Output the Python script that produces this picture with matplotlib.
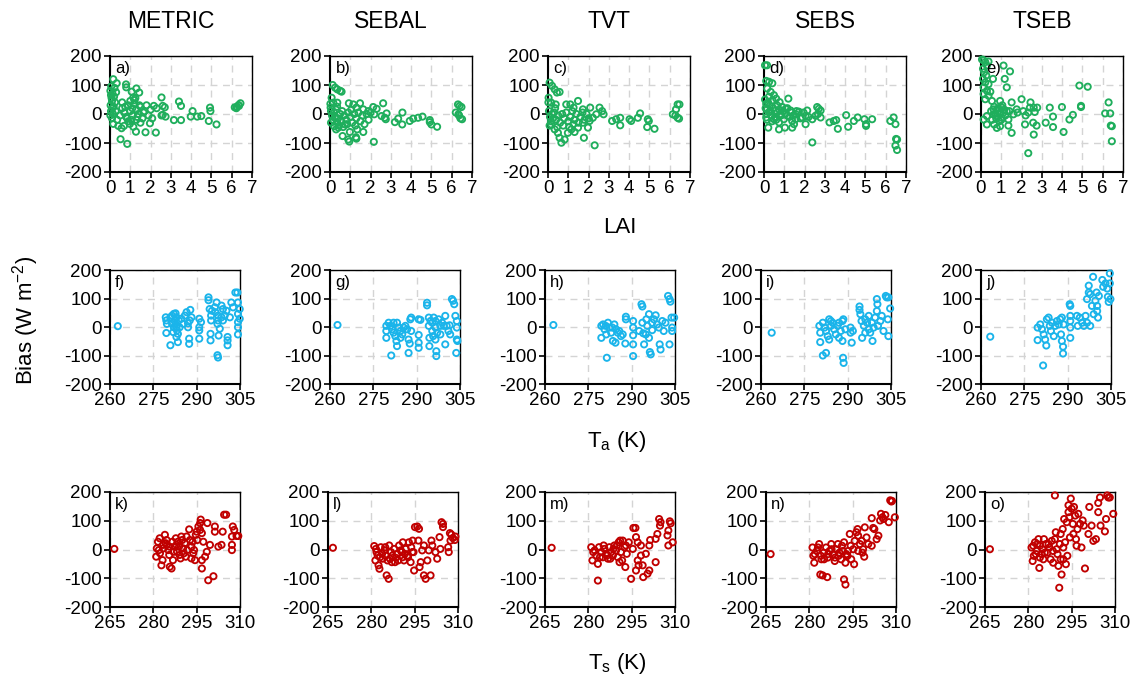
import matplotlib
matplotlib.use("Agg")
import matplotlib.pyplot as plt

plt.rcParams['font.family'] = ['Liberation Sans', 'DejaVu Sans']
plt.rcParams['axes.unicode_minus'] = False

models = ["METRIC", "SEBAL", "TVT", "SEBS", "TSEB"]
panel_labels = ["a)", "b)", "c)", "d)", "e)", "f)", "g)", "h)", "i)", "j)",
                "k)", "l)", "m)", "n)", "o)"]

lai_ticks = [0, 1, 2, 3, 4, 5, 6, 7]
ta_ticks = [260, 275, 290, 305]
ts_ticks = [265, 280, 295, 310]
bias_ticks = [-200, -100, 0, 100, 200]

# ---- Row 1: Bias vs LAI ----
a_pts = [(0.16,120),(0.33,106),(0.79,102),(0.8,92),(1.3,88),(1.07,77),(1.44,74),(1.15,57),(1.2,48),
         (2.54,57),(2.6,28),(2.16,28),(2.3,20),(2.7,23),(2.6,-3),(2.74,-9),(2.54,-5),(3.4,43),(3.5,28),
         (3.15,-21),(3.5,-21),(4.07,10),(3.98,-9),(4.3,-9),(4.5,-7),(4.93,22),(4.95,10),(4.87,-24),
         (5.25,-36),(6.15,23),(6.26,25),(6.34,31),(6.43,37),(6.36,28),(6.23,20),(0.52,-87),(0.85,-103),
         (1.28,-61),(1.75,-63),(2.26,-64),(1.97,-32),(2.08,-15),(0.16,-34),(0.41,-41),(0.57,-49),
         (0.69,-41),(0.98,-34),(1.15,-44),(0.6,20),(0.7,5),(0.8,-10),(0.9,30),(1.0,10),(1.1,-5),
         (1.2,35),(1.3,15),(1.4,0),(1.5,25),(1.6,-15),(1.7,10),(1.8,30),(1.9,-5),(2.0,15),(0.9,-25),
         (1.0,45),(1.1,20),(1.3,-20),(1.5,-30),(0.5,-5),(0.6,40),(0.75,25),(1.25,55),(1.35,-10),
         (1.45,30),(1.65,5),(0.85,-15),(1.05,-20),(0.02,80),(0.05,65),(0.08,55),(0.1,45),(0.03,30),
         (0.12,20),(0.05,10),(0.15,0),(0.02,-5),(0.1,-15),(0.2,60),(0.25,40),(0.18,25),(0.22,90),
         (0.3,75),(0.06,95),(0.12,70),(0.28,10),(0.35,-20)]

b_pts = [(0.13,100),(0.25,91),(0.36,85),(0.5,80),(0.57,77),(0.08,56),(0.16,39),(0.36,39),(0.03,22),
         (0.93,37),(1.15,33),(1.48,37),(1.3,22),(1.64,16),(2.13,24),(2.3,18),(2.62,37),(1.89,10),
         (2.18,-1),(2.54,-7),(2.7,-13),(2.79,2),(2.75,-18),(0.62,-76),(0.9,-88),(1.28,-80),(1.3,-85),
         (1.34,-53),(0.98,-62),(0.41,-47),(0.74,-36),(1.64,-62),(2.16,-96),(0.95,-95),(0.3,-53),
         (0.2,-42),(0.36,-30),(3.2,-28),(3.36,-16),(3.57,5),(3.56,-36),(3.93,-24),(4.1,-16),(4.34,-13),
         (4.56,-9),(4.92,-21),(5.0,-36),(5.28,-44),(4.92,-28),(6.31,33),(6.39,28),(6.48,24),(6.2,5),
         (6.36,-5),(6.43,-15),(6.51,-18),(6.33,-1),(0.05,10),(0.1,-5),(0.15,-20),(0.2,5),(0.25,-10),
         (0.3,15),(0.4,-15),(0.5,0),(0.55,-25),(0.6,10),(0.7,-5),(0.8,-20),(0.9,5),(1.0,-10),(1.1,-30),
         (1.2,0),(1.3,-15),(1.4,5),(1.5,-25),(1.6,-5),(1.7,-35),(1.8,0),(1.9,-20),(2.0,5),(0.45,-40),
         (0.65,-45),(0.85,-35),(1.05,15),(1.25,-40),(0.35,25),(0.02,35),(0.05,-30)]

c_pts = [(0.08,108),(0.2,97),(0.33,85),(0.44,74),(0.57,76),(0.03,56),(0.16,39),(0.38,33),(0.9,33),
         (1.1,33),(1.48,45),(1.26,22),(1.72,16),(2.08,22),(2.54,22),(2.67,10),(2.74,-1),(2.38,-1),
         (2.21,-13),(2.05,-24),(1.97,-47),(1.72,-30),(0.16,-36),(0.33,-53),(0.49,-65),(0.57,-82),
         (0.66,-99),(0.82,-88),(0.98,-65),(1.15,-53),(1.31,-62),(1.48,-47),(1.77,-82),(2.3,-108),
         (3.16,-24),(3.36,-18),(3.56,-13),(3.56,-39),(4.02,-18),(4.1,-24),(4.43,-13),(4.54,2),
         (4.92,-18),(4.97,-24),(4.89,-45),(5.25,-51),(6.15,-1),(6.31,16),(6.39,33),(6.48,33),
         (6.28,-5),(6.39,-13),(6.46,-16),(0.05,10),(0.1,-10),(0.15,-25),(0.2,0),(0.25,-15),(0.3,5),
         (0.4,-20),(0.5,-5),(0.6,-30),(0.7,0),(0.8,-15),(0.9,5),(1.0,-25),(1.1,-10),(1.2,10),
         (1.3,-20),(1.4,0),(1.5,-30),(1.6,-10),(1.7,5),(1.8,-20),(1.9,0),(2.0,-15),(0.45,-45),
         (0.75,-40),(1.05,-45),(1.25,-35),(0.35,20),(0.02,40),(0.08,-40)]

d_pts = [(0.05,168),(0.15,168),(0.11,114),(0.25,111),(0.41,106),(0.16,88),(0.33,76),(0.49,65),
         (0.6,53),(0.77,41),(1.2,53),(0.11,35),(0.16,18),(0.25,6),(0.11,-12),(0.21,-47),(0.74,-29),
         (0.74,-53),(1.03,-47),(1.39,-47),(1.48,-35),(1.39,-24),(1.56,-18),(1.89,-12),(2.05,-6),
         (2.13,12),(2.05,-35),(2.38,-98),(2.62,24),(2.7,18),(2.79,12),(2.66,0),(2.79,-12),(2.54,-6),
         (2.38,-18),(0.9,24),(1.07,18),(1.31,12),(1.72,8),(0.57,12),(0.82,0),(1.15,-6),(1.56,0),
         (0.49,-18),(0.98,-18),(0.66,29),(0.41,47),(0.28,29),(3.23,-29),(3.44,-24),(3.56,-21),
         (3.64,-51),(4.05,-4),(4.15,-44),(4.43,-24),(4.62,-12),(4.95,-18),(5.03,-35),(5.03,-41),
         (5.33,-18),(6.23,-24),(6.39,-12),(6.48,-35),(6.51,-86),(6.56,-88),(6.48,-109),(6.56,-124),
         (0.05,50),(0.08,20),(0.12,0),(0.2,40),(0.3,10),(0.35,-5),(0.45,20),(0.55,-10),(0.65,5),
         (0.75,15),(0.85,-5),(0.95,10),(1.05,0),(1.15,20),(1.25,-10),(1.35,5),(1.45,-5),(1.6,10),
         (1.8,-15),(1.95,5),(2.2,-10),(0.4,-25),(0.6,-20),(0.25,60),(0.15,-20)]

e_pts = [(0.05,188),(0.13,185),(0.21,179),(0.37,181),(0.29,167),(0.1,156),(0.16,144),(0.26,133),
         (0.1,121),(0.21,109),(0.37,103),(0.13,92),(0.29,80),(0.46,77),(0.13,69),(0.37,63),(0.21,51),
         (0.54,45),(0.59,121),(1.11,167),(1.43,147),(1.17,121),(1.27,92),(0.94,45),(1.51,40),(2.0,51),
         (2.44,40),(2.41,22),(2.6,22),(2.77,22),(2.65,7),(2.33,5),(2.08,10),(1.76,16),(1.6,-1),
         (1.35,-19),(1.03,-13),(0.78,-7),(0.62,-1),(0.29,-7),(0.13,-19),(0.29,-36),(0.65,-36),
         (0.78,-48),(0.94,-42),(1.35,-40),(1.51,-65),(2.17,-36),(2.6,-71),(2.74,-40),(2.33,-135),
         (2.57,-30),(0.78,16),(1.03,22),(1.27,10),(1.11,5),(0.91,-1),(0.62,16),(3.39,22),(3.55,-9),
         (3.55,-45),(3.19,-30),(3.99,24),(4.07,-62),(4.36,-19),(4.53,-3),(4.85,98),(5.26,94),
         (4.93,28),(4.93,24),(6.12,2),(6.29,40),(6.37,2),(6.4,-40),(6.45,-42),(6.45,-94),(0.5,10),
         (0.7,0),(0.85,20),(1.0,-20),(1.2,-5),(0.9,-25),(0.75,-15),(1.15,15),(1.4,10),(1.8,5),
         (2.2,-5),(0.55,-20),(1.05,30),(0.95,5),(0.65,25)]

# ---- Row 2: Bias vs air temperature Ta (K) ----
f_pts = [(262.7,3),(279.3,34),(279.5,23),(279.7,11),(279.5,-21),(280.9,-64),(280.9,34),(281.5,40),
         (282.1,46),(282.7,48),(283.0,34),(282.3,23),(282.7,11),(283.0,-1),(283.2,-12),(283.5,-24),
         (283.0,-35),(283.5,-53),(282.1,-1),(281.9,-18),(281.5,11),(283.8,23),(285.9,40),(286.5,52),
         (287.8,60),(287.6,23),(287.0,-1),(287.4,-41),(287.4,-59),(288.2,34),(287.0,13),(285.3,11),
         (284.7,29),(284.1,-1),(290.9,29),(291.5,17),(290.9,-1),(290.9,-12),(290.9,-41),(294.1,104),
         (294.1,94),(294.5,63),(295.0,40),(295.0,23),(294.8,-24),(294.8,-47),(295.3,57),(296.3,69),
         (296.9,86),(296.5,52),(297.4,40),(297.4,23),(297.2,11),(297.6,-30),(297.2,-99),(297.4,-107),
         (298.0,-6),(298.6,75),(299.1,63),(299.1,23),(300.3,57),(300.7,-35),(300.7,-64),(300.7,-47),
         (301.5,34),(302.0,86),(302.6,69),(303.4,121),(304.1,121),(304.3,86),(304.3,46),(304.3,17),
         (304.3,-1),(304.3,-26),(304.9,63),(304.9,29),(298.6,34),(299.7,40)]

g_pts = [(262.6,7),(279.5,4),(279.5,-14),(279.5,-38),(280.3,15),(280.9,4),(281.5,-8),(282.0,-20),
         (282.6,-32),(283.0,-49),(283.2,-67),(281.2,-100),(282.0,15),(283.2,15),(283.8,-2),(284.4,-14),
         (285.0,-26),(285.5,-2),(286.1,4),(286.7,-8),(287.2,-44),(287.6,-58),(287.2,-91),(287.8,27),
         (288.1,33),(288.1,-14),(284.4,-38),(290.7,27),(290.7,-28),(290.7,-55),(290.7,-73),(291.3,25),
         (293.6,85),(293.6,76),(294.2,33),(294.2,4),(294.4,-38),(294.4,-67),(295.4,15),(295.4,-14),
         (295.9,33),(296.5,21),(296.5,-2),(296.5,-44),(297.1,-20),(296.8,-85),(296.8,-102),(297.6,27),
         (298.2,4),(298.2,-26),(299.4,4),(299.9,39),(299.9,-61),(300.4,4),(301.0,-14),(301.6,-26),
         (302.2,98),(302.6,92),(303.0,80),(303.4,39),(303.9,21),(303.9,-2),(303.9,-44),(303.7,-91),
         (304.1,-49),(301.4,6),(298.8,15),(294.8,21),(295.7,-32)]

h_pts = [(262.9,7),(279.5,4),(279.5,-38),(280.1,9),(280.6,-8),(281.2,-26),(281.4,-108),(281.8,15),
         (282.3,-2),(282.9,-20),(283.5,-49),(284.0,9),(284.6,-8),(285.2,-20),(285.7,-14),(286.3,-32),
         (286.9,-26),(284.4,-55),(288.0,36),(288.0,27),(287.8,-58),(283.3,-2),(281.0,4),(290.5,21),
         (290.5,-2),(290.5,-29),(290.5,-61),(290.5,-102),(293.4,80),(293.7,72),(293.7,15),(294.0,-22),
         (294.3,-61),(295.1,27),(295.4,4),(296.0,45),(296.0,-38),(296.3,-88),(296.6,-96),(297.1,15),
         (297.1,-11),(297.7,27),(298.3,41),(298.8,9),(299.4,-2),(299.7,-61),(300.0,-79),(300.6,21),
         (301.1,-14),(301.7,15),(302.6,109),(303.1,98),(303.4,89),(303.8,33),(304.0,-2),(304.0,-14),
         (303.1,-61),(304.7,33),(294.9,-26),(292.6,-14)]

i_pts = [(263.7,-20),(280.2,4),(280.5,-20),(280.5,-53),(281.4,-100),(282.5,-91),(281.4,15),(282.0,-2),
         (282.5,-14),(283.1,-32),(283.6,-44),(284.2,21),(284.2,4),(283.6,27),(284.8,15),(285.3,-8),
         (285.9,-26),(286.5,4),(287.0,15),(287.6,-14),(288.2,21),(288.5,27),(288.2,-49),(288.4,-108),
         (288.6,-126),(287.0,-38),(289.2,-8),(291.0,-2),(291.0,-20),(291.4,-55),(291.8,-14),(294.1,72),
         (294.1,60),(294.4,45),(294.8,21),(295.0,-38),(295.6,4),(296.1,27),(296.7,15),(297.3,-8),
         (297.8,-20),(298.4,15),(298.6,-49),(299.5,33),(300.1,98),(300.3,80),(300.1,56),(300.5,4),
         (301.3,21),(301.8,39),(302.4,-14),(303.2,109),(303.5,104),(304.1,104),(303.9,27),(304.1,-32),
         (304.7,65),(297.3,39),(296.1,-20),(299.0,-2)]

j_pts = [(263.2,-34),(279.6,-2),(279.6,-46),(280.5,9),(281.1,-8),(281.5,-135),(281.7,-26),(282.2,-44),
         (282.6,-65),(282.8,27),(283.4,33),(283.8,4),(284.2,-14),(284.6,15),(285.2,-32),(285.7,4),
         (286.3,21),(286.9,9),(287.4,27),(288.0,33),(287.7,-26),(288.0,-49),(288.4,-69),(288.4,-93),
         (288.6,9),(290.9,39),(290.9,21),(290.9,-2),(290.9,-38),(290.7,80),(290.9,74),(293.2,39),
         (293.5,4),(294.2,33),(295.0,15),(295.6,4),(296.2,39),(296.7,98),(297.3,121),(297.3,145),
         (297.8,115),(298.4,74),(298.8,176),(299.0,45),(299.6,92),(300.0,121),(300.2,74),(300.2,56),
         (300.5,33),(300.8,109),(302.0,165),(302.3,141),(303.1,153),(303.7,135),(303.9,106),
         (304.2,88),(304.6,188),(304.6,153),(304.8,98),(297.8,4),(296.7,15)]

# ---- Row 3: Bias vs surface temperature Ts (K) ----
k_pts = [(266.5,2),(281.0,-25),(281.2,4),(281.6,27),(282.2,39),(282.8,-55),(283.2,-37),(283.4,16),
         (284.0,51),(284.6,33),(285.2,-2),(285.5,-19),(285.7,-60),(286.3,-66),(286.8,-37),(287.4,10),
         (287.8,39),(288.2,-8),(288.5,27),(289.1,-19),(289.7,45),(290.3,4),(290.9,22),(291.2,-25),
         (291.5,45),(291.7,-2),(292.4,70),(293.2,10),(293.2,-31),(293.8,-13),(294.4,-37),(294.7,51),
         (295.0,62),(295.6,80),(296.2,92),(296.4,104),(296.2,68),(296.8,57),(296.8,-37),(296.8,-66),
         (297.3,27),(297.9,-25),(298.5,-8),(298.7,92),(299.0,-107),(299.6,16),(300.8,-93),(301.3,80),
         (301.3,62),(302.5,10),(303.6,16),(304.0,62),(304.5,121),(305.2,121),(307.5,80),(308.0,68),
         (307.2,45),(307.2,16),(307.2,-2),(308.8,47),(309.4,47),(281.9,-2),(282.3,-13),(283.5,4),
         (284.2,22),(284.7,16),(285.6,10),(286.6,27),(287.0,-8),(288.0,16),(288.9,10),(289.4,-31),
         (290.0,33),(290.6,-13),(292.7,33),(293.6,27),(294.1,-2),(295.2,33)]

l_pts = [(266.7,6),(281.0,12),(281.4,-38),(281.8,-9),(282.5,-55),(282.8,-67),(283.0,-27),(283.7,-15),
         (284.5,-3),(285.0,-21),(285.3,-90),(286.0,-102),(285.6,-38),(286.2,14),(286.8,-9),(287.3,-21),
         (287.9,2),(288.5,-29),(289.0,-15),(289.6,14),(290.2,-3),(290.8,-27),(291.3,-38),(291.9,2),
         (292.5,-21),(293.0,25),(293.6,-44),(294.2,-9),(294.8,-73),(295.1,78),(295.9,80),(296.5,72),
         (296.3,31),(296.7,-61),(297.1,-44),(297.6,-3),(298.2,14),(298.2,-90),(298.8,-102),
         (299.4,-38),(299.9,-3),(300.5,-90),(300.8,31),(301.1,14),(302.2,-9),(302.8,-32),(303.6,43),
         (303.9,2),(304.3,95),(304.8,89),(304.8,78),(306.6,8),(306.8,-9),(307.2,57),(307.7,52),
         (307.4,31),(308.2,40),(308.9,33),(309.1,45),(281.6,2),(282.2,-21),(283.3,8),(283.9,-32),
         (284.8,8),(286.4,-32),(287.1,-44),(288.2,-44),(289.3,-38),(290.5,-9),(290.9,25),(291.6,-15),
         (292.7,-27),(293.8,8),(294.3,31),(294.6,-9)]

m_pts = [(267.3,6),(281.0,8),(281.4,-38),(282.2,-3),(282.8,-21),(283.3,-50),(283.3,-108),(283.7,8),
         (284.5,-9),(285.0,-27),(285.6,2),(286.2,-15),(286.8,-32),(287.3,8),(287.9,-9),(288.5,-21),
         (289.0,14),(289.6,-3),(290.2,-27),(290.5,25),(290.8,-44),(291.0,31),(291.3,-9),(291.9,31),
         (292.5,8),(292.8,-61),(293.3,-15),(294.0,25),(294.8,-102),(295.4,2),(295.6,75),(296.3,75),
         (296.5,43),(296.5,-73),(297.1,-38),(297.1,25),(297.4,-55),(298.2,14),(298.2,-21),(298.8,-55),
         (299.0,-96),(299.9,-15),(300.5,-84),(301.1,-73),(301.1,14),(301.4,33),(303.3,37),(303.3,-44),
         (303.9,54),(304.5,106),(305.0,95),(304.8,83),(307.4,49),(307.7,14),(308.2,98),(308.5,91),
         (307.7,66),(309.2,25),(281.7,-9),(284.0,-27),(285.3,14),(286.5,-21),(287.6,-32),(288.7,2),
         (289.9,14),(291.7,-38),(293.0,14)]

n_pts = [(266.6,-16),(281.1,7),(281.4,-22),(281.7,-46),(282.6,-5),(283.4,19),(283.8,-87),(284.6,-90),
         (284.2,-34),(285.0,-11),(285.8,7),(286.2,-96),(286.4,-28),(287.0,-5),(287.6,19),(288.2,-16),
         (288.8,-40),(289.3,1),(289.9,19),(290.4,-11),(291.0,-34),(291.3,13),(292.0,25),(292.0,-104),
         (292.5,-122),(292.5,-46),(292.8,-16),(293.4,-5),(294.0,54),(294.3,13),(294.5,-34),(295.5,-51),
         (295.7,30),(296.3,60),(296.7,71),(296.9,48),(297.5,19),(298.1,30),(298.6,1),(299.0,-25),
         (299.2,77),(299.8,42),(300.4,19),(301.6,13),(301.6,109),(302.1,75),(302.5,71),(303.3,36),
         (303.9,48),(304.5,101),(304.8,124),(305.3,112),(305.7,106),(306.3,120),(307.5,95),(308.0,171),
         (308.4,167),(308.6,169),(309.6,112),(281.9,-16),(283.0,7),(284.0,-22),(285.1,-34),(286.5,-16),
         (287.7,1),(288.9,-28),(290.1,-22),(291.6,-5),(293.2,-22),(295.2,1),(296.9,-5),(298.4,-11)]

o_pts = [(266.7,1),(281.1,7),(281.5,-40),(281.9,-22),(282.3,25),(282.9,-5),(283.8,-64),(283.5,36),
         (284.0,13),(284.6,-16),(285.2,-34),(285.4,36),(286.1,19),(286.6,-11),(287.3,7),(287.7,-34),
         (288.1,30),(288.6,-46),(289.2,36),(289.2,188),(289.5,60),(289.8,1),(290.4,-57),(290.7,-133),
         (290.9,19),(291.2,54),(291.5,-87),(291.9,71),(292.1,-34),(292.1,7),(292.4,106),(292.7,25),
         (293.0,-51),(293.3,95),(293.5,-22),(293.9,130),(293.9,154),(294.2,112),(294.4,42),(294.7,177),
         (295.0,142),(295.4,89),(295.6,54),(295.8,148),(296.2,118),(296.5,36),(296.7,13),(297.0,71),
         (297.3,124),(297.9,89),(298.4,7),(298.8,101),(299.2,83),(299.6,-66),(300.8,54),(301.1,148),
         (301.9,83),(302.5,30),(303.4,36),(304.2,130),(304.2,162),(304.8,181),(305.0,83),(306.5,63),
         (306.9,106),(307.3,188),(307.7,181),(308.2,181),(309.4,124),(281.7,13),(282.6,-16),(283.1,19),
         (284.0,-28),(284.9,1),(285.7,-11),(287.0,19),(288.5,-5),(290.1,-16),(291.2,-34)]

row1 = [a_pts, b_pts, c_pts, d_pts, e_pts]
row2 = [f_pts, g_pts, h_pts, i_pts, j_pts]
row3 = [k_pts, l_pts, m_pts, n_pts, o_pts]

green = "#1fae5c"
blue = "#1ab4ea"
red = "#c00000"

W, H = 1143, 682
fig = plt.figure(figsize=(W / 100, H / 100), dpi=100)

row_specs = [
    (row1, [110, 330, 548, 764, 981], 142, 56, 172, (0, 7), lai_ticks, green),
    (row2, [110, 330, 545, 761, 981], 130, 270, 384, (260, 305), ta_ticks, blue),
    (row3, [110, 328, 545, 766, 985], 130, 492, 607, (265, 310), ts_ticks, red),
]

idx = 0
for r, (pts_list, lefts, width, top, bottom, xlim, xticks, col) in enumerate(row_specs):
    for c, pts in enumerate(pts_list):
        ax = fig.add_axes([lefts[c] / W, 1 - bottom / H, width / W, (bottom - top) / H])
        xs = [p[0] for p in pts]
        ys = [p[1] for p in pts]
        ax.scatter(xs, ys, s=20, facecolors="none", edgecolors=col, linewidths=1.35,
                   zorder=3, clip_on=False)
        ax.set_xlim(*xlim)
        ax.set_ylim(-200, 200)
        ax.set_xticks(xticks)
        ax.set_yticks(bias_ticks)
        ax.tick_params(labelsize=13.5, direction="out", length=4, width=1.2, pad=2,
                       colors="black")
        ax.grid(True, color="#d4d4d4", linestyle=(0, (5, 4)), linewidth=1.0, zorder=0)
        for side in ["left", "bottom"]:
            ax.spines[side].set_linewidth(1.5)
        for side in ["top", "right"]:
            ax.spines[side].set_linewidth(1.0)
        ax.set_axisbelow(True)
        ax.text(0.04, 0.96, panel_labels[idx], transform=ax.transAxes, fontsize=12,
                ha="left", va="top", zorder=4)
        idx += 1
        if r == 0:
            cx = (lefts[c] + width / 2 - 10) / W
            fig.text(cx, 1 - 22 / H, models[c], fontsize=16.5, ha="center", va="center")

fig.text(620 / W, 1 - 228 / H, "LAI", fontsize=16, ha="center", va="center")
fig.text(617 / W, 1 - 441 / H, r"T$_\mathregular{a}$ (K)", fontsize=16, ha="center", va="center")
fig.text(617 / W, 1 - 663 / H, r"T$_\mathregular{s}$ (K)", fontsize=16, ha="center", va="center")
fig.text(26 / W, 1 - 320 / H, "Bias (W m$^\\mathregular{-2}$)", fontsize=16, ha="center",
         va="center", rotation=90)

fig.savefig("out.png", dpi=100)
